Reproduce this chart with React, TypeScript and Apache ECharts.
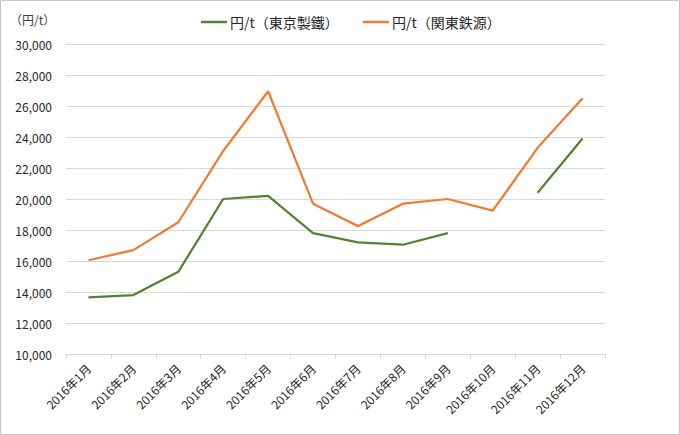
import React, { useEffect, useRef } from "react";
import * as echarts from "echarts";

const categories = [
  "2016年1月", "2016年2月", "2016年3月", "2016年4月", "2016年5月", "2016年6月",
  "2016年7月", "2016年8月", "2016年9月", "2016年10月", "2016年11月", "2016年12月",
];
const tokyoSeitetsu: (number | null)[] = [
  13650, 13800, 15300, 20000, 20200, 17800, 17200, 17050, 17800, null, 20400, 23900,
];
const kantoTetsugen: (number | null)[] = [
  16050, 16700, 18500, 23100, 26950, 19700, 18250, 19700, 20000, 19250, 23300, 26500,
];
const seriesNames = ["円/t（東京製鐵）", "円/t（関東鉄源）"];
const unitLabel = "（円/t）";

const FONT = "'Noto Sans CJK JP', 'Noto Sans', sans-serif";

export default function App() {
  const ref = useRef<HTMLDivElement>(null);
  useEffect(() => {
    if (!ref.current) return;
    const chart = echarts.init(ref.current, null, { renderer: "svg" });
    chart.setOption({
      animation: false,
      backgroundColor: "#ffffff",
      textStyle: { fontFamily: FONT },
      graphic: [
        {
          type: "rect",
          shape: { x: 0.5, y: 0.5, width: 679, height: 434 },
          style: { fill: "none", stroke: "#c4c4c4", lineWidth: 1 },
          silent: true,
        },
        {
          type: "text",
          left: 10,
          top: 13,
          style: { text: unitLabel, fontSize: 12, fill: "#404040", fontFamily: FONT },
        },
      ],
      legend: {
        top: 10,
        left: 196,
        itemWidth: 26,
        itemHeight: 2.5,
        itemGap: 24,
        icon: "rect",
        textStyle: { fontSize: 14, color: "#262626", fontFamily: FONT, padding: [0, 0, 0, -2] },
        data: seriesNames,
      },
      grid: { left: 66, right: 75, top: 44, bottom: 81 },
      xAxis: {
        type: "category",
        data: categories,
        boundaryGap: true,
        axisLine: { lineStyle: { color: "#d9d9d9" } },
        axisTick: { show: true, lineStyle: { color: "#d9d9d9" }, length: 5 },
        axisLabel: { rotate: 45, fontSize: 12, color: "#262626", margin: 12, fontFamily: FONT },
      },
      yAxis: {
        type: "value",
        min: 10000,
        max: 30000,
        interval: 2000,
        axisLine: { show: false },
        axisTick: { show: false },
        splitLine: { lineStyle: { color: "#d9d9d9", width: 1 } },
        axisLabel: {
          fontSize: 12,
          color: "#262626",
          margin: 14,
          fontFamily: FONT,
          formatter: (v: number) => v.toLocaleString("en-US"),
        },
      },
      series: [
        {
          name: seriesNames[0],
          type: "line",
          data: tokyoSeitetsu,
          symbol: "none",
          connectNulls: false,
          lineStyle: { color: "#548235", width: 2.25 },
          itemStyle: { color: "#548235" },
        },
        {
          name: seriesNames[1],
          type: "line",
          data: kantoTetsugen,
          symbol: "none",
          lineStyle: { color: "#ED7D31", width: 2.25 },
          itemStyle: { color: "#ED7D31" },
        },
      ],
    });
    return () => chart.dispose();
  }, []);
  return (
    <div
      ref={ref}
      style={{ position: "fixed", left: 0, top: 0, width: 680, height: 435 }}
    />
  );
}
